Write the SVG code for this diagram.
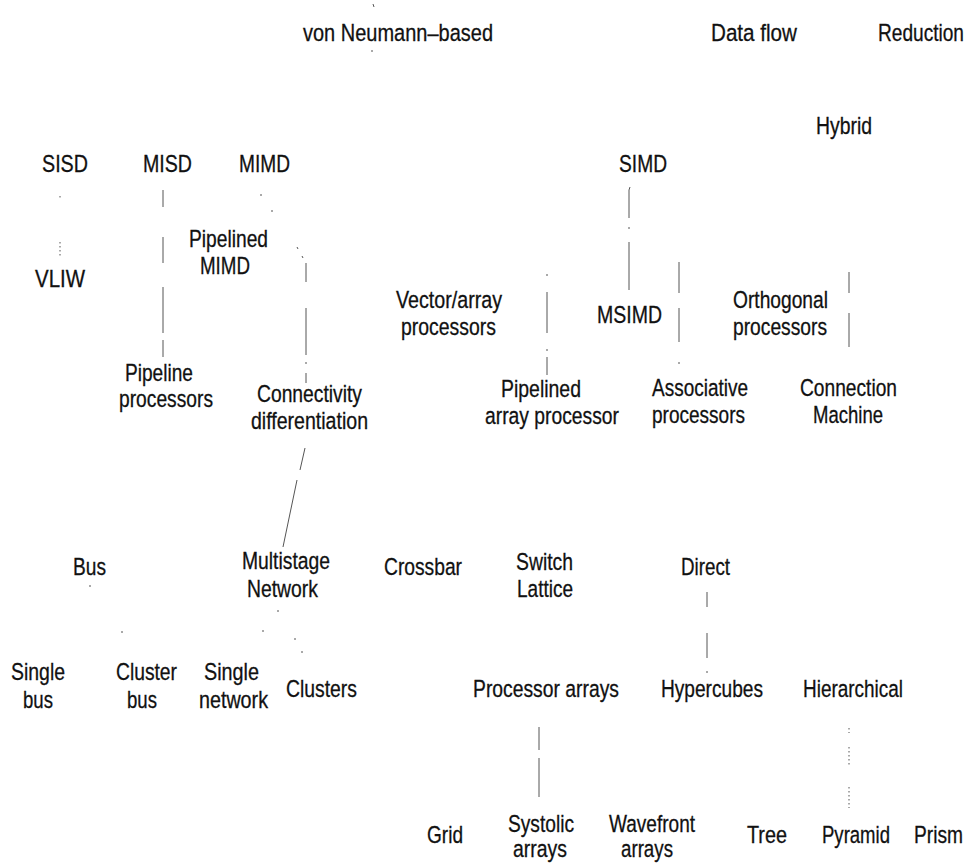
<svg xmlns="http://www.w3.org/2000/svg" width="972" height="867" viewBox="0 0 972 867">
<style>
.t{font-family:"Liberation Sans",Arial,Helvetica,sans-serif;font-size:24.5px;fill:#111;stroke:#111;stroke-width:0.3}
.c{stroke:#555;stroke-width:1;fill:none}
.d{stroke:#555;stroke-width:1;fill:none;stroke-dasharray:1.5 2.5}
</style>
<rect width="972" height="867" fill="#fff"/>
<g id="connectors">
<path class="c" d="M373 4L374 7M372 50L372 52"/>
<path class="d" d="M60 196L60 198M60 242L60 257"/>
<path class="c" d="M163 190L163 207M163 237L163 263M163 287L163 333M163 340L163 357"/>
<path class="c" d="M261 194L261 196M272 210L272 212"/>
<path class="c" d="M297 247L298 249M302 256L303 258M306 263L306 282M306 308L306 355M306 362L306 364M306 373L306 383"/>
<path class="c" d="M305 448L300 470M297 480L283 547"/>
<path class="c" d="M90 585L90 587M122 631L122 633M278 610L278 612M263 630L263 632M295 638L295 640M302 651L302 653"/>
<path class="c" d="M630 187L629 190L629 218M629 227L629 229M629 242L629 290"/>
<path class="c" d="M547 274L547 276M547 292L547 333M547 349L547 351M547 357L547 375"/>
<path class="c" d="M679 262L679 293M679 308L679 342M679 362L679 364"/>
<path class="c" d="M849 272L849 293M849 313L849 347"/>
<path class="c" d="M707 592L707 607M707 633L707 658M707 671L707 673"/>
<path class="c" d="M539 727L539 750M539 758L539 797"/>
<path class="d" d="M849 728L849 733M849 747L849 765M849 787L849 808"/>
</g>
<g id="vonneumann"><text class="t" x="303" y="41" textLength="190" lengthAdjust="spacingAndGlyphs">von Neumann–based</text></g>
<g id="dataflow"><text class="t" x="711" y="41" textLength="86" lengthAdjust="spacingAndGlyphs">Data flow</text></g>
<g id="reduction"><text class="t" x="878" y="41" textLength="86" lengthAdjust="spacingAndGlyphs">Reduction</text></g>
<g id="hybrid"><text class="t" x="816" y="134" textLength="56" lengthAdjust="spacingAndGlyphs">Hybrid</text></g>
<g id="sisd"><text class="t" x="42" y="172" textLength="46" lengthAdjust="spacingAndGlyphs">SISD</text></g>
<g id="misd"><text class="t" x="143" y="172" textLength="49" lengthAdjust="spacingAndGlyphs">MISD</text></g>
<g id="mimd"><text class="t" x="239" y="172" textLength="51" lengthAdjust="spacingAndGlyphs">MIMD</text></g>
<g id="simd"><text class="t" x="619" y="172" textLength="48" lengthAdjust="spacingAndGlyphs">SIMD</text></g>
<g id="vliw"><text class="t" x="35" y="287" textLength="50" lengthAdjust="spacingAndGlyphs">VLIW</text></g>
<g id="pipelinedmimd"><text class="t" x="189" y="247" textLength="79" lengthAdjust="spacingAndGlyphs">Pipelined</text><text class="t" x="200" y="274" textLength="50" lengthAdjust="spacingAndGlyphs">MIMD</text></g>
<g id="vectorarray"><text class="t" x="396" y="308" textLength="106" lengthAdjust="spacingAndGlyphs">Vector/array</text><text class="t" x="401" y="335" textLength="95" lengthAdjust="spacingAndGlyphs">processors</text></g>
<g id="msimd"><text class="t" x="597" y="323" textLength="65" lengthAdjust="spacingAndGlyphs">MSIMD</text></g>
<g id="orthogonal"><text class="t" x="733" y="308" textLength="95" lengthAdjust="spacingAndGlyphs">Orthogonal</text><text class="t" x="733" y="335" textLength="94" lengthAdjust="spacingAndGlyphs">processors</text></g>
<g id="pipeline"><text class="t" x="125" y="381" textLength="68" lengthAdjust="spacingAndGlyphs">Pipeline</text><text class="t" x="119" y="407" textLength="94" lengthAdjust="spacingAndGlyphs">processors</text></g>
<g id="connectivity"><text class="t" x="257" y="402" textLength="105" lengthAdjust="spacingAndGlyphs">Connectivity</text><text class="t" x="251" y="429" textLength="117" lengthAdjust="spacingAndGlyphs">differentiation</text></g>
<g id="pipelinedarray"><text class="t" x="501" y="397" textLength="80" lengthAdjust="spacingAndGlyphs">Pipelined</text><text class="t" x="485" y="424" textLength="134" lengthAdjust="spacingAndGlyphs">array processor</text></g>
<g id="associative"><text class="t" x="652" y="396" textLength="96" lengthAdjust="spacingAndGlyphs">Associative</text><text class="t" x="652" y="423" textLength="93" lengthAdjust="spacingAndGlyphs">processors</text></g>
<g id="connectionmachine"><text class="t" x="800" y="396" textLength="97" lengthAdjust="spacingAndGlyphs">Connection</text><text class="t" x="813" y="423" textLength="70" lengthAdjust="spacingAndGlyphs">Machine</text></g>
<g id="bus"><text class="t" x="73" y="575" textLength="33" lengthAdjust="spacingAndGlyphs">Bus</text></g>
<g id="multistage"><text class="t" x="242" y="569" textLength="88" lengthAdjust="spacingAndGlyphs">Multistage</text><text class="t" x="247" y="597" textLength="71" lengthAdjust="spacingAndGlyphs">Network</text></g>
<g id="crossbar"><text class="t" x="384" y="575" textLength="78" lengthAdjust="spacingAndGlyphs">Crossbar</text></g>
<g id="switchlattice"><text class="t" x="516" y="570" textLength="57" lengthAdjust="spacingAndGlyphs">Switch</text><text class="t" x="517" y="597" textLength="56" lengthAdjust="spacingAndGlyphs">Lattice</text></g>
<g id="direct"><text class="t" x="681" y="575" textLength="49" lengthAdjust="spacingAndGlyphs">Direct</text></g>
<g id="singlebus"><text class="t" x="11" y="680" textLength="54" lengthAdjust="spacingAndGlyphs">Single</text><text class="t" x="23" y="708" textLength="30" lengthAdjust="spacingAndGlyphs">bus</text></g>
<g id="clusterbus"><text class="t" x="116" y="680" textLength="61" lengthAdjust="spacingAndGlyphs">Cluster</text><text class="t" x="127" y="708" textLength="30" lengthAdjust="spacingAndGlyphs">bus</text></g>
<g id="singlenetwork"><text class="t" x="204" y="680" textLength="55" lengthAdjust="spacingAndGlyphs">Single</text><text class="t" x="199" y="708" textLength="69" lengthAdjust="spacingAndGlyphs">network</text></g>
<g id="clusters"><text class="t" x="286" y="697" textLength="71" lengthAdjust="spacingAndGlyphs">Clusters</text></g>
<g id="processorarrays"><text class="t" x="473" y="697" textLength="146" lengthAdjust="spacingAndGlyphs">Processor arrays</text></g>
<g id="hypercubes"><text class="t" x="661" y="697" textLength="102" lengthAdjust="spacingAndGlyphs">Hypercubes</text></g>
<g id="hierarchical"><text class="t" x="803" y="697" textLength="100" lengthAdjust="spacingAndGlyphs">Hierarchical</text></g>
<g id="grid"><text class="t" x="427" y="843" textLength="36" lengthAdjust="spacingAndGlyphs">Grid</text></g>
<g id="systolic"><text class="t" x="508" y="832" textLength="66" lengthAdjust="spacingAndGlyphs">Systolic</text><text class="t" x="513" y="857" textLength="54" lengthAdjust="spacingAndGlyphs">arrays</text></g>
<g id="wavefront"><text class="t" x="609" y="832" textLength="86" lengthAdjust="spacingAndGlyphs">Wavefront</text><text class="t" x="621" y="857" textLength="52" lengthAdjust="spacingAndGlyphs">arrays</text></g>
<g id="tree"><text class="t" x="747" y="843" textLength="40" lengthAdjust="spacingAndGlyphs">Tree</text></g>
<g id="pyramid"><text class="t" x="822" y="843" textLength="68" lengthAdjust="spacingAndGlyphs">Pyramid</text></g>
<g id="prism"><text class="t" x="914" y="843" textLength="49" lengthAdjust="spacingAndGlyphs">Prism</text></g>
</svg>
